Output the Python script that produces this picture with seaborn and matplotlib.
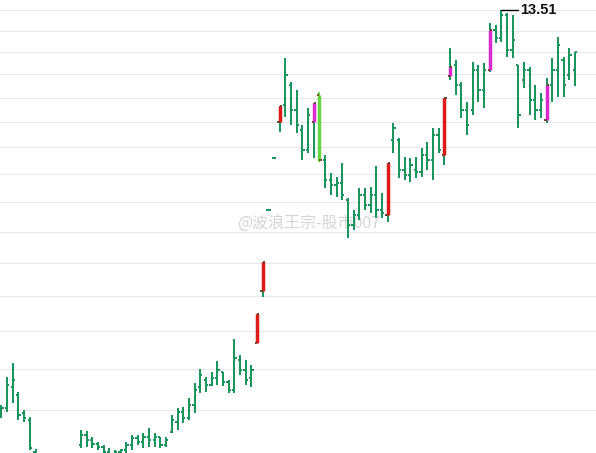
import numpy as np
import pandas as pd
import matplotlib
matplotlib.use("Agg")
import matplotlib.pyplot as plt
import seaborn as sns

# ---- data (daily OHLC) ----
high = [6.56, 6.90, 7.08, 6.72, 6.50, 6.42, 6.05, 5.90, 5.80, 5.72,
        5.85, 5.95, 5.98, 6.00, 6.26, 6.25, 6.18, 6.13, 6.10, 6.06,
        6.04, 6.05, 6.13, 6.21, 6.21, 6.23, 6.29, 6.23, 6.18, 6.18,
        6.44, 6.52, 6.53, 6.64, 6.83, 7.00, 6.90, 6.97, 7.11, 6.97,
        6.86, 7.40, 7.19, 7.12, 7.06, 7.74, 8.52, 9.37, 10.30, 11.33,
        12.36, 11.83, 11.66, 10.94, 11.29, 11.39, 11.62, 10.36, 10.02, 9.95,
        10.21, 9.57, 9.37, 9.75, 9.75, 9.77, 10.15, 9.66, 10.21, 10.98,
        10.68, 10.32, 10.30, 10.32, 10.49, 10.60, 10.88, 10.88, 11.49, 12.59,
        12.32, 11.83, 11.41, 12.28, 12.21, 12.25, 13.19, 13.14, 13.51, 13.43,
        13.38, 12.21, 12.28, 12.17, 11.77, 11.60, 11.92, 12.37, 12.85, 12.39,
        12.59, 12.50]
low = [6.40, 6.47, 6.58, 6.38, 6.36, 6.04, 5.82, 5.62, 5.55, 5.50,
       5.60, 5.72, 5.78, 5.80, 6.06, 6.07, 6.06, 6.04, 5.99, 5.97,
       5.95, 5.95, 5.97, 6.04, 6.10, 6.06, 6.07, 6.07, 6.06, 6.07,
       6.23, 6.26, 6.35, 6.38, 6.46, 6.70, 6.72, 6.79, 6.80, 6.79,
       6.70, 6.70, 6.93, 6.80, 6.78, 7.34, 7.99, 9.37, 10.30, 10.80,
       11.10, 10.94, 10.78, 10.26, 10.39, 10.30, 10.22, 9.75, 9.63, 9.59,
       9.54, 8.90, 9.03, 9.20, 9.37, 9.31, 9.23, 9.23, 9.16, 10.39,
       9.93, 9.89, 9.86, 9.93, 9.95, 10.08, 9.89, 10.39, 10.17, 11.88,
       11.56, 11.08, 10.74, 11.14, 11.41, 11.29, 12.05, 12.71, 12.73, 12.39,
       12.37, 10.88, 11.70, 11.14, 11.04, 11.08, 10.98, 11.41, 11.52, 11.52,
       11.88, 11.74]
open_ = [6.45, 6.52, 6.78, 6.68, 6.46, 6.38, 6.02, 5.85, 5.70, 5.60,
         5.65, 5.80, 5.88, 5.95, 6.10, 6.21, 6.15, 6.11, 6.07, 6.02,
         5.99, 6.02, 6.04, 6.10, 6.17, 6.13, 6.18, 6.15, 6.18, 6.10,
         6.24, 6.36, 6.47, 6.40, 6.56, 6.78, 6.86, 6.80, 6.89, 6.97,
         6.84, 6.74, 7.12, 6.99, 6.89, 7.34, 8.08, 9.37, 10.30, 11.00,
         11.35, 11.77, 11.25, 10.84, 10.45, 11.00, 11.56, 10.26, 9.89, 9.80,
         9.84, 9.54, 9.11, 9.28, 9.63, 9.45, 9.63, 9.37, 9.28, 10.64,
         10.64, 10.08, 9.98, 10.08, 10.04, 10.36, 10.26, 10.74, 10.36, 11.96,
         12.21, 11.77, 11.25, 11.25, 12.10, 11.66, 12.10, 13.02, 12.83, 13.38,
         12.55, 12.21, 11.88, 12.10, 11.45, 11.25, 11.04, 11.77, 12.10, 12.32,
         11.99, 12.10]
close = [6.52, 6.80, 6.86, 6.44, 6.40, 6.06, 5.87, 5.70, 5.60, 5.65,
         5.80, 5.90, 5.95, 5.98, 6.21, 6.15, 6.11, 6.07, 6.02, 5.99,
         6.02, 6.04, 6.10, 6.17, 6.13, 6.18, 6.15, 6.18, 6.10, 6.15,
         6.38, 6.47, 6.40, 6.56, 6.74, 6.93, 6.80, 6.89, 6.99, 6.84,
         6.74, 7.15, 6.99, 6.86, 6.99, 7.74, 8.52, 9.37, 10.30, 11.33,
         11.99, 11.25, 10.94, 10.45, 11.14, 11.39, 10.26, 9.89, 9.80, 9.84,
         9.63, 9.11, 9.28, 9.63, 9.45, 9.63, 9.37, 9.31, 10.21, 10.88,
         10.08, 9.98, 10.17, 10.04, 10.36, 10.26, 10.74, 10.45, 11.49, 12.17,
         11.77, 11.25, 10.94, 12.10, 11.66, 12.10, 13.02, 12.83, 13.38, 12.55,
         12.78, 11.14, 12.10, 11.45, 11.25, 11.45, 11.77, 12.10, 12.66, 11.77,
         12.43, 12.50]
red_bars = [45, 46, 49, 68, 78]
magenta_bars = [55, 79, 86, 96]
lime_bars = [56]
grid_levels = [6.5, 7.0, 7.5, 8.0, 8.5, 9.0, 9.5, 10.0, 10.5, 11.0, 11.5, 12.0, 12.5, 13.0, 13.5]
peak_label = "13.51"
watermark = "@波浪王宗-股市007"

df = pd.DataFrame({"high": high, "low": low, "open": open_, "close": close})
df["idx"] = np.arange(len(df))

# ---- style ----
sns.set_theme(style="white")
plt.rcParams["font.family"] = ["Liberation Sans", "Noto Sans CJK SC", "DejaVu Sans"]

GREEN = "#14935a"
RED = "#dc1a1a"
MAGENTA = "#d92ad0"
LIME = "#66d640"

fig = plt.figure(figsize=(5.96, 4.53), dpi=100)
ax = fig.add_axes([0, 0, 1, 1])
ax.set_yscale("log")
ax.set_xlim(-0.255, 104.69)
ax.set_ylim(6.006, 13.749)

# grid
for g in grid_levels:
    ax.axhline(g, color="#e8e8e8", lw=0.8, zorder=0)

x = df["idx"].to_numpy(dtype=float)
tw = 0.4
colors = np.array([GREEN] * len(df), dtype=object)
for i in lime_bars:
    colors[i] = LIME

ax.vlines(x, df["low"], df["high"], colors=list(colors), lw=1.4, zorder=2)
ax.hlines(df["open"], x - tw, x, colors=list(colors), lw=1.4, zorder=2)
ax.hlines(df["close"], x, x + tw, colors=list(colors), lw=1.4, zorder=2)

for idxs, col in ((red_bars, RED), (magenta_bars, MAGENTA), (lime_bars, LIME)):
    sub = df.iloc[idxs]
    lo = np.minimum(sub["open"], sub["close"])
    hi = np.maximum(sub["open"], sub["close"])
    ax.vlines(sub["idx"], lo, hi, colors=col, lw=2.5, zorder=3)
    ax.hlines(sub["open"], sub["idx"] - tw, sub["idx"], colors="#7a3a2a", lw=1.2, zorder=4)
    ax.hlines(sub["close"], sub["idx"], sub["idx"] + tw, colors="#7a3a2a", lw=1.2, zorder=4)

# peak annotation
pk = int(np.argmax(df["high"].to_numpy()))
ax.plot([pk, pk + 3.0], [df["high"][pk], df["high"][pk]], color="black", lw=1.0, zorder=5)
ax.text(pk + 3.4, df["high"][pk], peak_label, fontsize=10.5, color="#111111",
        fontweight="bold", va="center", ha="left", family=["Liberation Sans", "DejaVu Sans"])

# watermark
ax.text(41.5, 9.12, watermark, fontsize=11.5, color="#d0d0d0", alpha=0.9,
        va="center", ha="left", family=["Noto Sans CJK SC", "DejaVu Sans"], zorder=1)

ax.set_xticks([])
ax.set_yticks([])
ax.minorticks_off()
for s in ax.spines.values():
    s.set_visible(False)

fig.savefig("out.png", dpi=100, facecolor="white")
